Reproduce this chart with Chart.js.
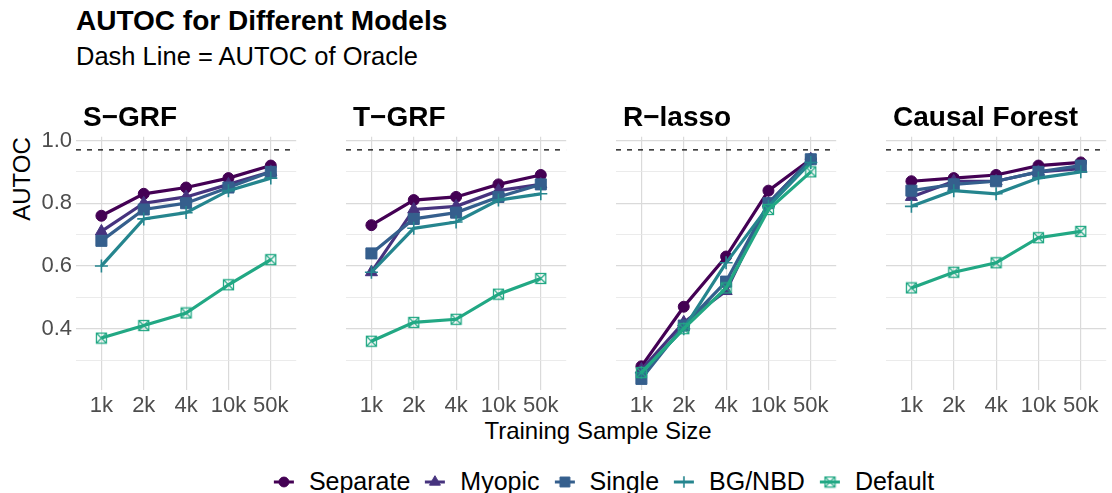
<!DOCTYPE html>
<html>
<head>
<meta charset="utf-8">
<script src="https://cdn.jsdelivr.net/npm/chart.js@4.4.1/dist/chart.umd.min.js"></script>
<style>
  body { margin: 0; width: 1112px; height: 493px; overflow: hidden; position: relative; background: #fff;
         font-family: 'Liberation Sans', Arial, sans-serif; color: #000; }
  .txt { position: absolute; white-space: nowrap; line-height: 1; }
  canvas.panel { position: absolute; }
  #legend { position: absolute; left: 604px; top: 469px; transform: translateX(-50%); display: flex;
            align-items: center; font-size: 25px; line-height: 1; white-space: nowrap; }
  #legend .item { display: flex; align-items: center; margin-right: 15px; }
  #legend .item:last-child { margin-right: 0; }
  #legend canvas { margin-right: 15px; }
</style>
</head>
<body>
<div class="txt" style="left:76px; top:7px; font-size:28px; font-weight:bold;">AUTOC for Different Models</div>
<div class="txt" style="left:76px; top:44px; font-size:25.5px;">Dash Line = AUTOC of Oracle</div>
<div class="txt" style="left:22px; top:179px; font-size:24px; transform:translate(-50%,-50%) rotate(-90deg);">AUTOC</div>
<div class="txt" style="left:598px; top:419px; font-size:24px; transform:translateX(-50%);">Training Sample Size</div>
<div id="legend"></div>

<script>
// Données
const SIZES = ['1k', '2k', '4k', '10k', '50k'];
const MODELS = ['S\u2212GRF', 'T\u2212GRF', 'R\u2212lasso', 'Causal Forest'];
const SERIES = ['Separate', 'Myopic', 'Single', 'BG/NBD', 'Default'];
const ORACLE_AUTOC = 0.97;
const Y_MAJOR = [0.4, 0.6, 0.8, 1.0];
const Y_MINOR = [0.3, 0.5, 0.7, 0.9];

// une ligne par modèle (S-GRF, T-GRF, R-lasso, Causal Forest)
const separate = [
    [0.76, 0.83, 0.85, 0.88, 0.92],
    [0.73, 0.81, 0.82, 0.86, 0.89],
    [0.28, 0.47, 0.63, 0.84, 0.94],
    [0.87, 0.88, 0.89, 0.92, 0.93]
];
const myopic = [
    [0.71, 0.80, 0.82, 0.86, 0.90],
    [0.58, 0.78, 0.79, 0.84, 0.86],
    [0.27, 0.42, 0.52, 0.80, 0.94],
    [0.82, 0.87, 0.87, 0.90, 0.91]
];
const single = [
    [0.68, 0.78, 0.80, 0.85, 0.90],
    [0.64, 0.75, 0.77, 0.82, 0.86],
    [0.24, 0.41, 0.55, 0.80, 0.94],
    [0.84, 0.86, 0.87, 0.90, 0.92]
];
const bgnbd = [
    [0.60, 0.75, 0.77, 0.84, 0.88],
    [0.58, 0.72, 0.74, 0.81, 0.83],
    [0.26, 0.40, 0.61, 0.79, 0.93],
    [0.79, 0.84, 0.83, 0.88, 0.90]
];
const defaultModel = [
    [0.37, 0.41, 0.45, 0.54, 0.62],
    [0.36, 0.42, 0.43, 0.51, 0.56],
    [0.26, 0.40, 0.53, 0.78, 0.90],
    [0.53, 0.58, 0.61, 0.69, 0.71]
];
const SERIES_VALUES = [separate, myopic, single, bgnbd, defaultModel];

// Couleurs (viridis, end = 0.6)
const COLORS = ['#440154', '#46337E', '#355F8D', '#25858E', '#22A884'];
const TICK_COLOR = '#4D4D4D';
const GRID_MAJOR = '#dadada';
const GRID_MINOR = '#e6e6e6';

// Géométrie des panneaux
const PLOT_LEFT = 76, PLOT_STEP = 270, PLOT_W = 229;
const PLOT_TOP = 134, PLOT_H = 256;
const Y_AXIS_W = 50, X_AXIS_H = 40, PAD_TOP = 6;
const Y_MIN = 0.2045, Y_MAX = 1.0117;

Chart.defaults.font.family = "'Liberation Sans', Arial, sans-serif";

// carré avec croix (shape 7 de ggplot)
function makeSquareCross(color) {
    const c = document.createElement('canvas');
    c.width = 13; c.height = 13;
    const g = c.getContext('2d');
    g.strokeStyle = color;
    g.lineWidth = 1.3;
    g.strokeRect(1.5, 1.5, 10, 10);
    g.beginPath();
    g.moveTo(1.5, 1.5); g.lineTo(11.5, 11.5);
    g.moveTo(11.5, 1.5); g.lineTo(1.5, 11.5);
    g.stroke();
    return c;
}

const MARKERS = [
    { pointStyle: 'circle', radius: 5.5, borderWidth: 1 },
    { pointStyle: 'triangle', radius: 7, borderWidth: 1 },
    { pointStyle: 'rect', radius: 7.8, borderWidth: 1 },
    { pointStyle: 'cross', radius: 6.5, borderWidth: 1.6 },
    { pointStyle: makeSquareCross(COLORS[4]), radius: 6, borderWidth: 1 }
];

const isMajor = v => Y_MAJOR.some(m => Math.abs(m - v) < 1e-6);

function buildPanel(k) {
    const canvas = document.createElement('canvas');
    canvas.className = 'panel';
    canvas.width = PLOT_W + Y_AXIS_W;
    canvas.height = PLOT_H + X_AXIS_H + PAD_TOP;
    canvas.style.left = (PLOT_LEFT + k * PLOT_STEP - Y_AXIS_W) + 'px';
    canvas.style.top = (PLOT_TOP - PAD_TOP) + 'px';
    document.body.appendChild(canvas);

    const strip = document.createElement('div');
    strip.className = 'txt';
    strip.textContent = MODELS[k];
    strip.style.cssText += `left:${PLOT_LEFT + k * PLOT_STEP + 7}px; top:103px; font-size:28px; font-weight:bold;`;
    document.body.appendChild(strip);

    const datasets = SERIES.map((name, i) => ({
        label: name,
        data: SIZES.map((s, j) => ({ x: j, y: SERIES_VALUES[i][k][j] })),
        borderColor: COLORS[i],
        backgroundColor: COLORS[i],
        borderWidth: 3.2,
        pointStyle: MARKERS[i].pointStyle,
        pointRadius: MARKERS[i].radius,
        pointBorderWidth: MARKERS[i].borderWidth,
        pointBackgroundColor: COLORS[i],
        pointBorderColor: COLORS[i],
        tension: 0,
        order: SERIES.length - i
    }));
    datasets.push({
        label: 'Oracle',
        data: [{ x: -0.6, y: ORACLE_AUTOC }, { x: SIZES.length - 0.4, y: ORACLE_AUTOC }],
        borderColor: '#000',
        borderWidth: 1.3,
        borderDash: [5, 6],
        pointRadius: 0,
        order: 10
    });

    return new Chart(canvas.getContext('2d'), {
        type: 'line',
        data: { datasets: datasets },
        options: {
            responsive: false,
            animation: false,
            devicePixelRatio: 1,
            layout: { padding: { top: PAD_TOP, right: 0, bottom: 0, left: 0 } },
            plugins: { legend: { display: false }, tooltip: { enabled: false } },
            scales: {
                x: {
                    type: 'linear',
                    min: -0.6,
                    max: SIZES.length - 0.4,
                    afterBuildTicks: s => { s.ticks = SIZES.map((_, j) => ({ value: j })); },
                    afterFit: s => {
                        s.height = X_AXIS_H;
                        s.paddingLeft = 0; s.paddingRight = 0;
                    },
                    ticks: {
                        callback: v => SIZES[v],
                        color: TICK_COLOR,
                        font: { size: 22 },
                        padding: 3,
                        maxRotation: 0,
                        autoSkip: false
                    },
                    grid: { color: GRID_MAJOR, lineWidth: 1.2, drawTicks: false },
                    border: { display: false }
                },
                y: {
                    min: Y_MIN,
                    max: Y_MAX,
                    afterBuildTicks: s => {
                        s.ticks = Y_MINOR.concat(Y_MAJOR).sort((a, b) => a - b).map(v => ({ value: v }));
                    },
                    afterFit: s => {
                        s.width = Y_AXIS_W;
                        s.paddingTop = 0; s.paddingBottom = 0;
                    },
                    ticks: {
                        display: k === 0,
                        callback: v => isMajor(v) ? v.toFixed(1) : '',
                        color: TICK_COLOR,
                        font: { size: 22 },
                        padding: 4
                    },
                    grid: {
                        drawTicks: false,
                        color: c => isMajor(c.tick.value) ? GRID_MAJOR : GRID_MINOR,
                        lineWidth: c => isMajor(c.tick.value) ? 1.2 : 0.8
                    },
                    border: { display: false }
                }
            }
        }
    });
}

// Légende en bas
function buildLegend() {
    const legend = document.getElementById('legend');
    SERIES.forEach((name, i) => {
        const item = document.createElement('div');
        item.className = 'item';
        const key = document.createElement('canvas');
        key.width = 20; key.height = 20;
        const g = key.getContext('2d');
        g.strokeStyle = COLORS[i];
        g.fillStyle = COLORS[i];
        g.lineWidth = 3;
        g.beginPath(); g.moveTo(0, 10); g.lineTo(20, 10); g.stroke();
        if (Chart.helpers && Chart.helpers.drawPoint) {
            g.lineWidth = MARKERS[i].borderWidth;
            Chart.helpers.drawPoint(g, {
                pointStyle: MARKERS[i].pointStyle,
                radius: MARKERS[i].radius * 0.9,
                rotation: 0,
                borderWidth: MARKERS[i].borderWidth
            }, 10, 10);
        }
        const label = document.createElement('span');
        label.textContent = name;
        item.appendChild(key);
        item.appendChild(label);
        legend.appendChild(item);
    });
}

MODELS.forEach((m, k) => buildPanel(k));
buildLegend();
</script>
</body>
</html>
